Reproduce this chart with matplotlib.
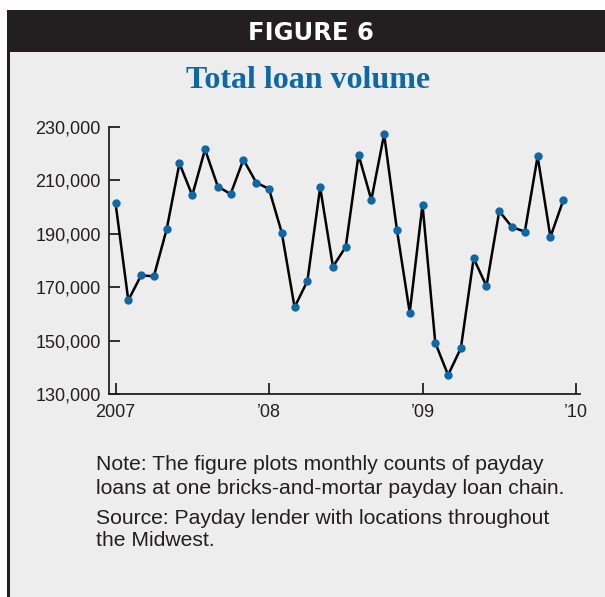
import matplotlib.pyplot as plt
from matplotlib.patches import Rectangle

# Monthly payday loan counts, Jan 2007 - Dec 2009
years = [2007, 2008, 2009]
loans_2007 = [201600, 165100, 174400, 174100, 191700, 216400,
              204400, 221600, 207700, 204900, 217800, 209200]
loans_2008 = [206800, 190400, 162500, 172300, 207400, 177700,
              185100, 219600, 202700, 227300, 191500, 160500]
loans_2009 = [200900, 149200, 137100, 147200, 180800, 170400,
              198500, 192500, 190800, 219000, 188800, 202500]

y_ticks = [130000, 150000, 170000, 190000, 210000, 230000]
x_ticks = [2007, 2008, 2009, 2010]
x_labels = ["2007", "\u201908", "\u201909", "\u201910"]

title = "Total loan volume"
header = "FIGURE 6"
note_lines = ["Note: The figure plots monthly counts of payday",
              "loans at one bricks-and-mortar payday loan chain."]
source_lines = ["Source: Payday lender with locations throughout",
                "the Midwest."]

W, H = 605, 597
INK = "#231f20"
PANEL = "#ededed"
BLUE = "#0c68a8"

plt.rcParams['font.family'] = ['Liberation Sans', 'DejaVu Sans']

fig = plt.figure(figsize=(W / 100, H / 100), dpi=100, facecolor="white")


def fx(px):
    return px / W


def fy(py):
    return 1 - py / H


# panel background, left rule and black header band
fig.add_artist(Rectangle((fx(7), fy(H)), fx(W - 7), fy(10) - fy(H),
                         transform=fig.transFigure, facecolor=PANEL,
                         edgecolor="none", zorder=0))
fig.add_artist(Rectangle((fx(7), fy(H)), fx(2.5), fy(10) - fy(H),
                         transform=fig.transFigure, facecolor=INK,
                         edgecolor="none", zorder=1))
fig.add_artist(Rectangle((fx(7), fy(52)), fx(W - 7), fy(10) - fy(52),
                         transform=fig.transFigure, facecolor=INK,
                         edgecolor="none", zorder=1))

fig.text(fx(310.5), fy(40), header, color="white", ha="center", va="baseline",
         fontsize=17.5, fontweight="bold",
         family=['DejaVu Sans'])
fig.text(fx(307.7), fy(87.7), title, color=BLUE, ha="center", va="baseline",
         fontsize=23, fontweight="bold", family=['Liberation Serif'])

ax = fig.add_axes([fx(109), fy(394), fx(580 - 109), fy(127) - fy(394)])
ax.set_facecolor("none")

values = loans_2007 + loans_2008 + loans_2009
xs = [years[0] + i / 12 for i in range(len(values))]
ax.plot(xs, values, color="black", lw=1.8, zorder=2, solid_joinstyle="miter")
ax.plot(xs, values, "o", color=BLUE, ms=6, mec="none", zorder=3)

ax.set_xlim(2007 - 6.5 / 153.5, 2007 + 471 / 153.5 - 6.5 / 153.5)
ax.set_ylim(130000, 230000)
ax.set_yticks(y_ticks)
ax.set_yticklabels([f"{v:,}" for v in y_ticks])
ax.set_xticks(x_ticks)
ax.set_xticklabels(x_labels)

for side in ("top", "right"):
    ax.spines[side].set_visible(False)
for side in ("left", "bottom"):
    ax.spines[side].set_linewidth(1.3)
    ax.spines[side].set_color(INK)
ax.tick_params(direction="in", length=8, width=1.3, color=INK,
               labelsize=13, labelcolor=INK)
ax.tick_params(axis="y", pad=6)
ax.tick_params(axis="x", pad=7)

for i, line in enumerate(note_lines):
    fig.text(fx(96), fy([470, 494.5][i]), line, color=INK, ha="left",
             va="baseline", fontsize=15.2)
for i, line in enumerate(source_lines):
    fig.text(fx(96), fy([523.5, 546][i]), line, color=INK, ha="left",
             va="baseline", fontsize=15.2)

fig.savefig("out.png", dpi=100, facecolor="white")
